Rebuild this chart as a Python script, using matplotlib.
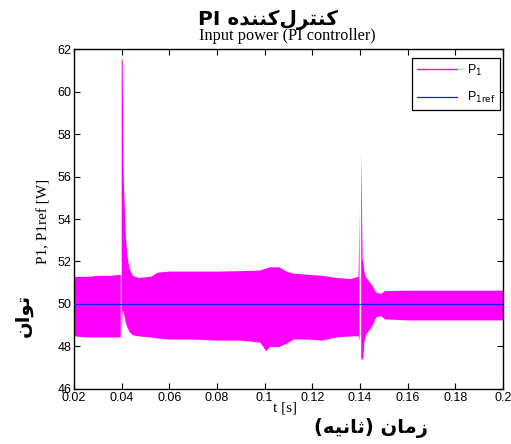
import numpy as np
import matplotlib
matplotlib.use("Agg")
import matplotlib.pyplot as plt
from matplotlib.ticker import FuncFormatter

# envelope of the fast-oscillating P1 signal
# segment before the step at t=0.04
t_a = [0.02, 0.025, 0.03, 0.035, 0.0394]
up_a = [51.3, 51.3, 51.35, 51.35, 51.4]
lo_a = [48.5, 48.45, 48.45, 48.45, 48.45]

# from the 0.04 step to the 0.14 step
t_b = [0.0398, 0.0402, 0.0404, 0.0407, 0.0411, 0.0416, 0.0423, 0.0431, 0.0445,
       0.047, 0.052, 0.055, 0.060, 0.070, 0.080, 0.090, 0.098, 0.1005, 0.102,
       0.106, 0.109, 0.112, 0.118, 0.124, 0.130, 0.136, 0.1392, 0.1396]
up_b = [61.6, 61.5, 59.5, 55.8, 54.6, 53.1, 52.2, 51.7, 51.35,
        51.25, 51.3, 51.5, 51.55, 51.55, 51.55, 51.57, 51.6, 51.7, 51.75,
        51.75, 51.55, 51.45, 51.4, 51.35, 51.25, 51.2, 51.3, 54.4]
lo_b = [48.5, 49.7, 49.7, 49.6, 49.4, 49.1, 48.9, 48.7, 48.55,
        48.5, 48.45, 48.4, 48.35, 48.35, 48.3, 48.3, 48.2, 47.8, 48.0,
        48.0, 48.15, 48.35, 48.35, 48.3, 48.45, 48.5, 48.5, 48.3]

# after the 0.14 step
t_c = [0.1403, 0.1406, 0.1409, 0.1412, 0.1416, 0.1420, 0.1425, 0.1435, 0.1446,
       0.1467, 0.1488, 0.1502, 0.16, 0.18, 0.2]
up_c = [57.2, 55.0, 52.1, 52.05, 51.6, 51.35, 51.27, 51.1, 50.95,
        50.55, 50.5, 50.63, 50.65, 50.65, 50.65]
lo_c = [47.4, 47.4, 47.45, 47.5, 48.2, 48.4, 48.6, 48.75, 48.9,
        49.4, 49.45, 49.3, 49.25, 49.25, 49.25]

t_ref = [0.02, 0.2]
p_ref = [50, 50]

x_ticks = [0.02, 0.04, 0.06, 0.08, 0.1, 0.12, 0.14, 0.16, 0.18, 0.2]
y_ticks = [46, 48, 50, 52, 54, 56, 58, 60, 62]

# Persian strings in shaped presentation forms, visual (LTR) order
title_fa = "PI " + "\ufee9\ufeaa\ufee8\ufee8\ufb90\ufedd\ufeae\ufe98\ufee8\ufb90"
ylab_fa = "\ufee5\ufe8d\ufeee\ufe97"
xlab_fa = "(\ufeea\ufbff\ufee7\ufe8e\ufe9b) \ufee5\ufe8e\ufee3\ufeaf"

plt.rcParams["font.family"] = ["Liberation Sans", "DejaVu Sans"]
MAG = "#ff00ff"

fig = plt.figure(figsize=(5.11, 4.44), dpi=100)
ax = fig.add_axes([0.1448, 0.1239, 0.8395, 0.7657])

for t, u, l in [(t_a, up_a, lo_a), (t_b, up_b, lo_b), (t_c, up_c, lo_c)]:
    ax.fill_between(t, l, u, color=MAG, lw=0, zorder=2)
ax.plot([], [], color=MAG, lw=1, label="P$_1$")
ax.plot(t_ref, p_ref, color="#1a1aff", lw=0.9, zorder=3, label="P$_{1\\mathrm{ref}}$")

ax.set_xlim(0.02, 0.2)
ax.set_ylim(46, 62)
ax.set_xticks(x_ticks)
ax.set_yticks(y_ticks)
ax.xaxis.set_major_formatter(FuncFormatter(lambda v, p: f"{v:g}"))
ax.tick_params(direction="in", top=True, right=True, length=4, width=0.8,
               labelsize=9, pad=2)
for s in ax.spines.values():
    s.set_linewidth(1.0)

leg = ax.legend(loc="upper right", bbox_to_anchor=(0.993, 0.975),
                fancybox=False, edgecolor="black", framealpha=1, fontsize=9,
                handlelength=3.2, borderaxespad=0, labelspacing=1.0)
leg.get_frame().set_linewidth(0.9)

# labels and titles
fig.text(0.563, 0.919, "Input power (PI controller)", ha="center", va="center",
         fontsize=11.7, family=["Liberation Serif"])
fig.text(0.524, 0.955, title_fa, ha="center", va="center", fontsize=14.5,
         fontweight="bold", family=["DejaVu Sans"])
fig.text(0.086, 0.502, "P1, P1ref [W]", rotation=90, ha="center", va="center",
         fontsize=11, family=["Liberation Serif"])
fig.text(0.045, 0.29, ylab_fa, rotation=90, ha="center", va="center",
         fontsize=14, fontweight="bold", family=["DejaVu Sans"])
fig.text(0.558, 0.08, "t [s]", ha="center", va="center",
         fontsize=11, family=["Liberation Serif"])
fig.text(0.726, 0.035, xlab_fa, ha="center", va="center", fontsize=14,
         fontweight="bold", family=["DejaVu Sans"])

fig.savefig("out.png", dpi=100)
